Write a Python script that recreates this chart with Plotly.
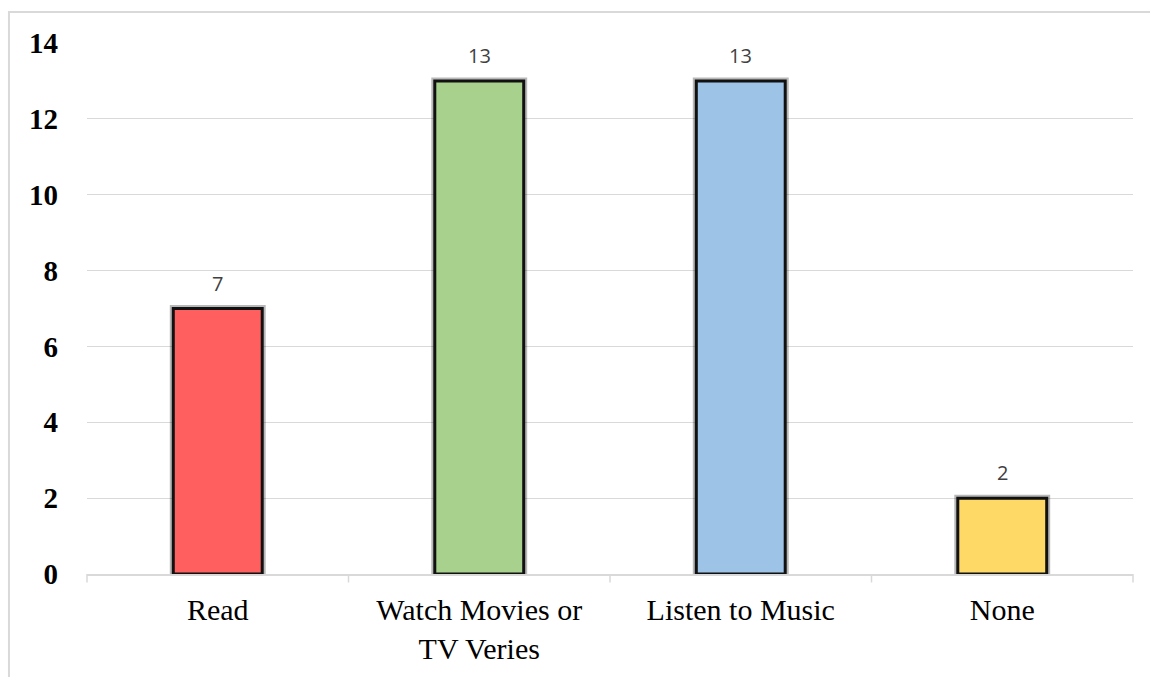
import plotly.graph_objects as go

categories = ["Read", "Watch Movies or<br>TV Veries", "Listen to Music", "None"]
values = [7, 13, 13, 2]
colors = ["#FF5F5F", "#A9D18E", "#9DC3E6", "#FFD966"]
y_ticks = [0, 2, 4, 6, 8, 10, 12, 14]

fig = go.Figure()
# soft shadow halo behind bars
fig.add_trace(go.Bar(
    x=categories, y=values,
    marker=dict(color="rgba(0,0,0,0)", line=dict(color="rgba(0,0,0,0.28)", width=7)),
    width=0.34, hoverinfo="skip",
))
fig.add_trace(go.Bar(
    x=categories, y=values,
    marker=dict(color=colors, line=dict(color="#111111", width=3)),
    width=0.34,
))
for c, v in zip(categories, values):
    fig.add_annotation(x=c, y=v, text=str(v), showarrow=False, yanchor="bottom", yshift=10,
                       font=dict(family="Open Sans, Liberation Sans, sans-serif", size=20, color="#404040"))

fig.update_layout(
    width=1150, height=677,
    margin=dict(l=87, r=17, t=43, b=101),
    plot_bgcolor="white", paper_bgcolor="white",
    showlegend=False,
    barmode="overlay",
    xaxis=dict(
        showgrid=False, showline=True, linecolor="#d9d9d9", linewidth=1.5,
        ticks="", tickfont=dict(family="Liberation Serif, Times New Roman, serif", size=30, color="#000000"),
        ticklabelstandoff=8,
    ),
    yaxis=dict(
        range=[0, 14], tickvals=y_ticks, showgrid=True, gridcolor="#d9d9d9", gridwidth=1,
        zeroline=False, showline=False, ticks="",
        tickfont=dict(family="Liberation Serif, Times New Roman, serif", size=29, color="#000000", weight="bold"),
        ticklabelstandoff=28,
    ),
)
# category boundary tick marks below axis
for i in range(len(categories) + 1):
    fig.add_shape(type="line", xref="paper", yref="paper",
                  x0=i / len(categories), x1=i / len(categories), y0=0, y1=-0.016,
                  line=dict(color="#d9d9d9", width=1.5))
# chart frame
fig.add_shape(type="rect", xref="paper", yref="paper",
              x0=-0.0746, x1=1.2, y0=-0.3, y1=1.0582,
              line=dict(color="#d9d9d9", width=2))

fig.write_html("out.html")
